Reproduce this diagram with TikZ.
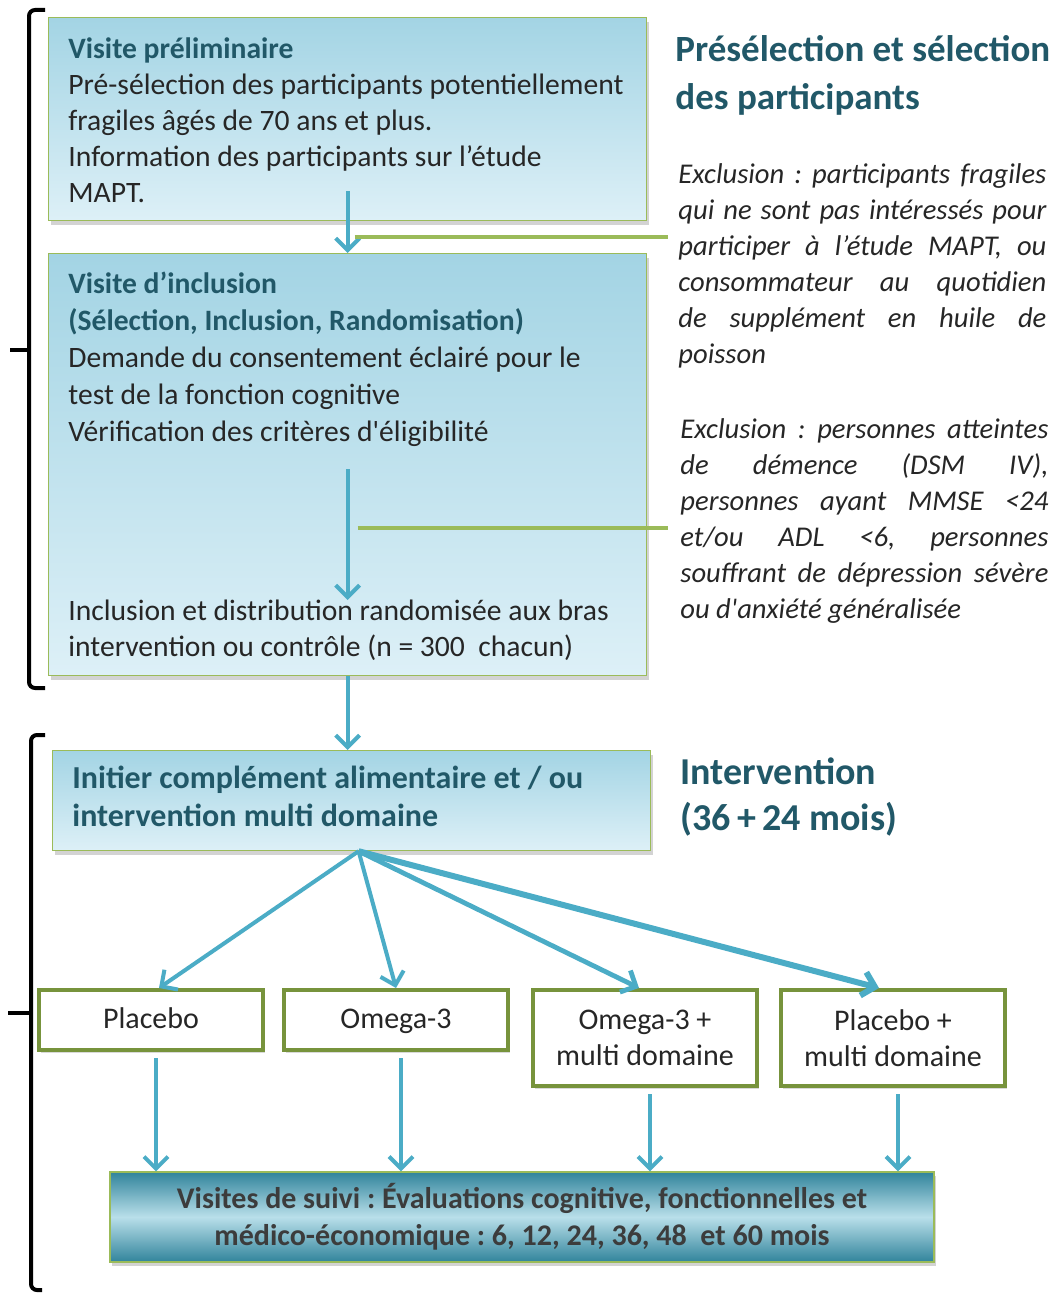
\documentclass[tikz,border=0pt]{standalone}
\usepackage{fontspec}
\setmainfont{Carlito}
\usetikzlibrary{arrows.meta,shadows,calc}
\frenchspacing

\definecolor{boxtop}{HTML}{A3D4E4}
\definecolor{boxbot}{HTML}{DDF0F7}
\definecolor{boxgreen}{HTML}{9BBB59}
\definecolor{armgreen}{HTML}{77933C}
\definecolor{arrowblue}{HTML}{4BACC6}
\definecolor{titleteal}{HTML}{215868}
\definecolor{bodygray}{HTML}{262626}
\definecolor{suividark}{HTML}{31849B}
\definecolor{suivilight}{HTML}{B9DFEA}

\begin{document}
\begin{tikzpicture}[
    x=0.5pt, y=-0.5pt,
    % Light blue step box
    bluebox/.style={
        rectangle, anchor=north west, inner sep=0pt,
        draw=boxgreen, line width=0.6pt,
        top color=boxtop, bottom color=boxbot,
        drop shadow={shadow xshift=1pt, shadow yshift=-2pt, opacity=0.35}
    },
    % Text inside the step boxes
    body text/.style={
        anchor=north west, inner sep=0pt, align=left,
        font=\fontsize{14.8}{18}\selectfont, text=bodygray
    },
    % Study arm box
    armbox/.style={
        rectangle, draw=armgreen, line width=2pt, fill=white,
        minimum width=112pt, align=center, inner sep=0pt,
        font=\fontsize{15}{18}\selectfont, text=bodygray,
        drop shadow={shadow xshift=1pt, shadow yshift=-1.5pt, opacity=0.3}
    },
    % Follow-up box
    suivibox/.style={
        rectangle, draw=boxgreen, line width=0.6pt, inner sep=0pt,
        minimum width=412pt, minimum height=45pt, align=center,
        top color=suividark, bottom color=suividark, middle color=suivilight,
        font=\bfseries\fontsize{15}{18.5}\selectfont, text=bodygray!90,
        drop shadow={shadow xshift=1pt, shadow yshift=-2pt, opacity=0.35}
    },
    % Section heading on the right
    heading/.style={
        anchor=north west, inner sep=0pt, align=left,
        font=\bfseries\fontsize{18.5}{24}\selectfont, text=titleteal
    },
    % Exclusion notes
    excl text/.style={
        anchor=north west, inner sep=0pt, text width=184pt, align=justify,
        font=\itshape\fontsize{14.3}{18}\selectfont, text=bodygray
    },
    % Blue arrows
    flow/.style={
        draw=arrowblue, line width=2pt,
        -{Straight Barb[length=6pt, width=12pt]}
    },
    % Green exclusion lines
    excl/.style={draw=boxgreen, line width=2pt},
    % Left brackets
    brace/.style={draw=black, line width=2pt, rounded corners=3pt}
]
\useasboundingbox (0,0) rectangle (1061,1293);

% --- Brackets ---
\draw[brace] (45,10) -- (29,10) -- (29,688) -- (45,688);
\draw[brace] (29,350) -- (10,350);
\draw[brace] (45,735) -- (31,735) -- (31,1290) -- (42,1290);
\draw[brace] (31,1013) -- (8,1013);

% --- Pre-selection and selection ---
\node[bluebox, minimum width=299pt, minimum height=101.5pt] (prelim) at (48,17) {};
\node[body text] (prelimtxt) at (68,37)
    {{\bfseries\color{titleteal}Visite préliminaire}\\
     Pré-sélection des participants potentiellement\\
     fragiles âgés de 70 ans et plus.\\
     Information des participants sur l’étude\\
     MAPT.};

\node[bluebox, minimum width=299pt, minimum height=211pt] (incl) at (48,253) {};
\node[body text] (incltop) at (68,272)
    {{\bfseries\color{titleteal}Visite d’inclusion}\\[0.5pt]
     {\bfseries\color{titleteal}(Sélection, Inclusion, Randomisation)}\\[0.5pt]
     Demande du consentement éclairé pour le\\[0.5pt]
     test de la fonction cognitive\\[0.5pt]
     Vérification des critères d\textquotesingle éligibilité};
\node[body text] (inclbot) at (68,600)
    {Inclusion et distribution randomisée aux bras\\
     intervention ou contrôle (n = 300\ \ chacun)};

\node[heading] (presel) at (675,35) {Présélection et sélection\\des participants};

\node[excl text] (excl1) at (678,163)
    {Exclusion : participants fragiles\linebreak
     qui ne sont pas intéressés pour\linebreak
     participer à l’étude MAPT, ou\linebreak
     consommateur au quotidien\linebreak
     de supplément en huile de\linebreak
     poisson};
\node[excl text] (excl2) at (680,418)
    {Exclusion : personnes atteintes\linebreak
     de démence (DSM IV),\linebreak
     personnes ayant MMSE <24\linebreak
     et/ou ADL <6, personnes\linebreak
     souffrant de dépression sévère\linebreak
     ou d\textquotesingle anxiété généralisée};

\draw[flow] ([yshift=15pt]prelim.south) -- (incl.north);
\coordinate (j1) at ([xshift=3.5pt]$(prelim.south)!0.5!(incl.north)$);
\draw[excl] (j1) -- ([xshift=-5pt]excl1.west |- j1);

\draw[flow] (incltop.south -| incl.north) ++(0,22) coordinate (a2) -- (a2 |- inclbot.north);
\coordinate (j2) at ([xshift=5pt]$(a2)!0.45!(a2 |- inclbot.north)$);
\draw[excl] (j2) -- ([xshift=-6pt]excl2.west |- j2);

% --- Intervention ---
\node[bluebox, minimum width=299pt, minimum height=50pt] (ini) at (52,750) {};
\node[body text, font=\bfseries\fontsize{16}{19}\selectfont, text=titleteal] (initxt) at (72,766)
    {Initier complément alimentaire et / ou\\intervention multi domaine};
\draw[flow] (incl.south) -- (ini.north -| incl.south);

\node[heading, font=\bfseries\fontsize{19}{23}\selectfont] (interv) at (680,757)
    {Intervention\\(36\,+\,24 mois)};

\node[armbox, minimum height=30pt, text height=11pt, text depth=3pt] (pla) at (151,1020) {Placebo};
\node[armbox, minimum height=30pt, text height=11pt, text depth=3pt] (ome) at (396,1020) {Omega-3};
\node[armbox, minimum height=48pt] (omm) at (645,1038) {Omega-3 +\\multi domaine};
\node[armbox, minimum height=48pt] (plm) at (893,1038) {Placebo +\\multi domaine};

\coordinate (fan) at ([xshift=3.5pt]ini.south);
\draw[flow] (fan) -- ([xshift=4pt]pla.north);
\draw[flow] (fan) -- (ome.north);
\draw[flow, line width=2.4pt] (fan) -- ([xshift=-3pt]omm.north);
\draw[flow, line width=3pt] (fan) -- ([xshift=-7pt]plm.north);

% --- Follow-up ---
\node[suivibox] (suivi) at (522,1217)
    {Visites de suivi : Évaluations cognitive, fonctionnelles et\\
     médico-économique : 6, 12, 24, 36, 48\ \ et 60 mois};

\foreach \arm in {pla, ome, omm, plm}
    \draw[flow, shorten <=3pt] ([xshift=2.5pt]\arm.south) -- ([xshift=2.5pt]\arm.south |- suivi.north);

\end{tikzpicture}
\end{document}
